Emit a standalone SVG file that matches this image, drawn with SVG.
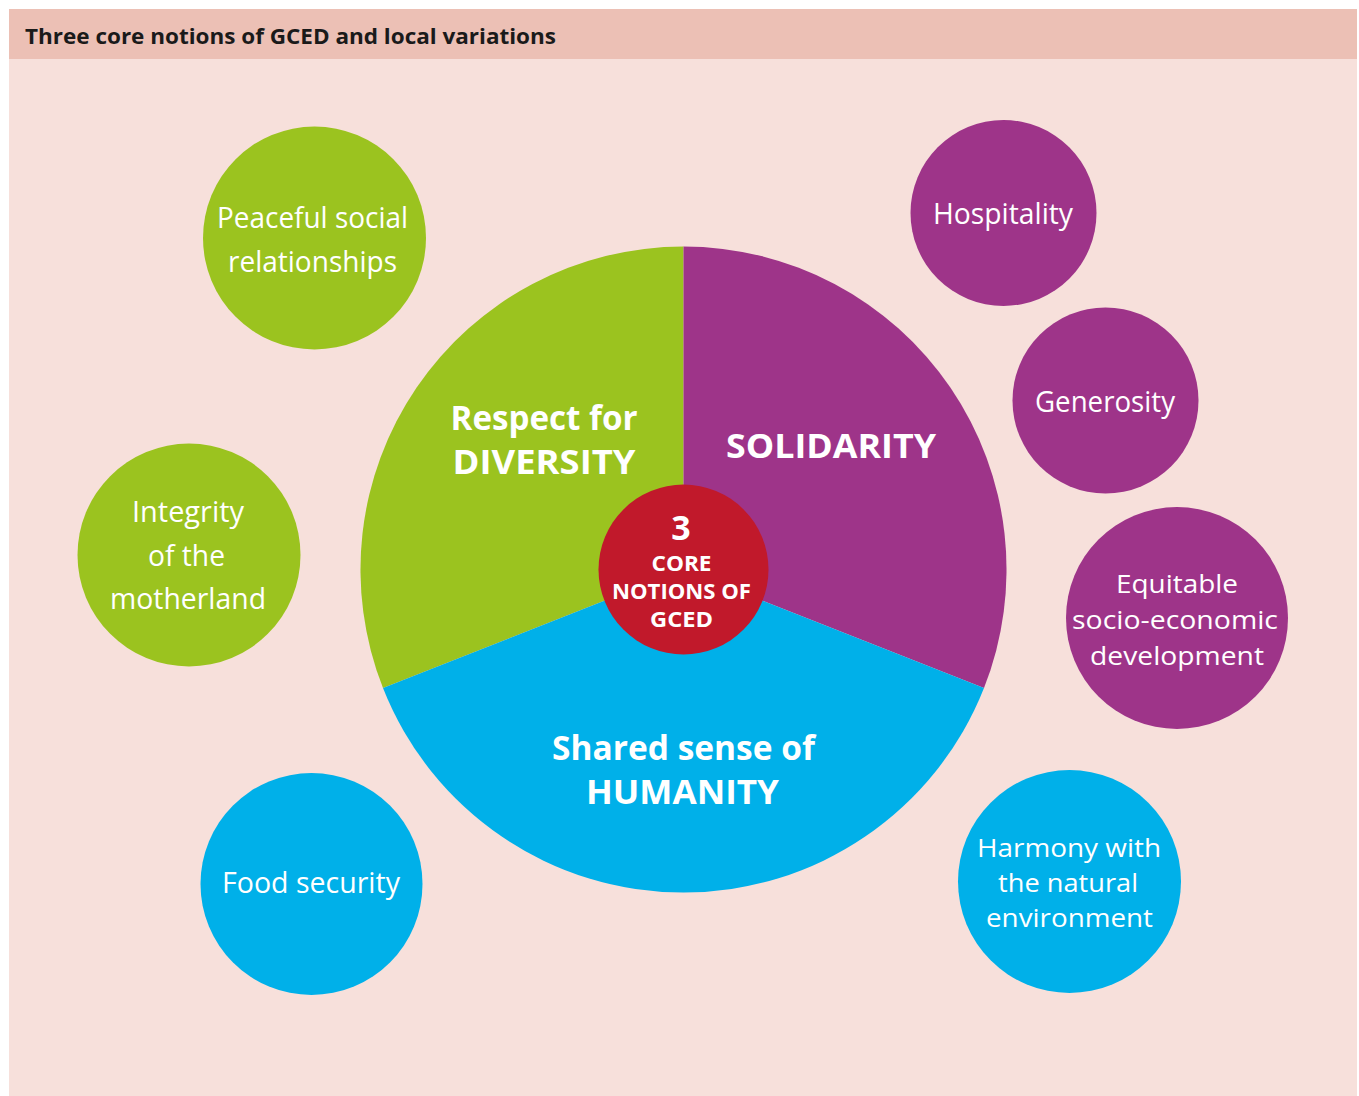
<svg xmlns="http://www.w3.org/2000/svg" width="1359" height="1096" viewBox="0 0 1359 1096">
<style>
.t{font-family:"Open Sans","Noto Sans","Liberation Sans",sans-serif;fill:#fff;text-anchor:middle}
.b{font-weight:bold}
.s{font-size:29px}
.s2{font-size:26px}
.big{font-size:34px;font-weight:bold}
.c{font-size:21px;font-weight:bold}
.g{fill:#9bc31f}.p{fill:#9e3489}.u{fill:#00b0e9}
</style>
<rect x="0" y="0" width="1359" height="1096" fill="#ffffff"/>
<rect x="9" y="9" width="1348" height="1087" fill="#f7e0db"/>
<rect x="9" y="9" width="1348" height="50" fill="#ecc0b5"/>
<text x="25" y="44" font-family="'Open Sans','Noto Sans','Liberation Sans',sans-serif" font-size="22" font-weight="bold" fill="#1a1a1a" textLength="531" lengthAdjust="spacingAndGlyphs">Three core notions of GCED and local variations</text>

<g id="core">
<path class="g" d="M683.5 569.5 L683.5 246.5 A323 323 0 0 0 383 688 Z"/>
<path class="p" d="M683.5 569.5 L683.5 246.5 A323 323 0 0 1 984 688 Z"/>
<path class="u" d="M683.5 569.5 L383 688 A323 323 0 0 0 984 688 Z"/>
<circle cx="683.5" cy="569.5" r="85" fill="#c1192b"/>
<text class="t big" x="544" y="430" textLength="187" lengthAdjust="spacingAndGlyphs">Respect for</text>
<text class="t big" x="544" y="474" textLength="183" lengthAdjust="spacingAndGlyphs">DIVERSITY</text>
<text class="t big" x="831" y="458" textLength="210" lengthAdjust="spacingAndGlyphs">SOLIDARITY</text>
<text class="t big" x="683.5" y="760" textLength="263" lengthAdjust="spacingAndGlyphs">Shared sense of</text>
<text class="t big" x="682.5" y="804" textLength="193" lengthAdjust="spacingAndGlyphs">HUMANITY</text>
<text class="t b" x="681" y="540" font-size="34">3</text>
<text class="t c" x="681.5" y="571" textLength="60" lengthAdjust="spacingAndGlyphs">CORE</text>
<text class="t c" x="681.5" y="599" textLength="139" lengthAdjust="spacingAndGlyphs">NOTIONS OF</text>
<text class="t c" x="681.5" y="627" textLength="63" lengthAdjust="spacingAndGlyphs">GCED</text>
</g>

<g id="peaceful">
<circle class="g" cx="314.5" cy="238" r="111.5"/>
<text class="t s" x="312.5" y="228" textLength="191" lengthAdjust="spacingAndGlyphs">Peaceful social</text>
<text class="t s" x="312.5" y="272" textLength="169" lengthAdjust="spacingAndGlyphs">relationships</text>
</g>
<g id="integrity">
<circle class="g" cx="189" cy="555" r="111.5"/>
<text class="t s" x="188" y="522" textLength="112" lengthAdjust="spacingAndGlyphs">Integrity</text>
<text class="t s" x="186.5" y="566" textLength="77" lengthAdjust="spacingAndGlyphs">of the</text>
<text class="t s" x="188" y="609" textLength="156" lengthAdjust="spacingAndGlyphs">motherland</text>
</g>
<g id="food">
<circle class="u" cx="311.5" cy="884" r="111"/>
<text class="t s" x="311" y="893" textLength="178" lengthAdjust="spacingAndGlyphs">Food security</text>
</g>
<g id="hospitality">
<circle class="p" cx="1003.5" cy="213" r="93"/>
<text class="t s" x="1003" y="224" textLength="140" lengthAdjust="spacingAndGlyphs">Hospitality</text>
</g>
<g id="generosity">
<circle class="p" cx="1105.5" cy="400.5" r="93"/>
<text class="t s" x="1105" y="412" textLength="140" lengthAdjust="spacingAndGlyphs">Generosity</text>
</g>
<g id="equitable">
<circle class="p" cx="1177" cy="618" r="111"/>
<text class="t s2" x="1177" y="593" textLength="122" lengthAdjust="spacingAndGlyphs">Equitable</text>
<text class="t s2" x="1175" y="629" textLength="206" lengthAdjust="spacingAndGlyphs">socio-economic</text>
<text class="t s2" x="1177" y="665" textLength="174" lengthAdjust="spacingAndGlyphs">development</text>
</g>
<g id="harmony">
<circle class="u" cx="1069.5" cy="881.5" r="111.5"/>
<text class="t s2" x="1069" y="857" textLength="184" lengthAdjust="spacingAndGlyphs">Harmony with</text>
<text class="t s2" x="1068" y="892" textLength="140" lengthAdjust="spacingAndGlyphs">the natural</text>
<text class="t s2" x="1069.5" y="927" textLength="167" lengthAdjust="spacingAndGlyphs">environment</text>
</g>
<g id="connectors"></g>
</svg>
